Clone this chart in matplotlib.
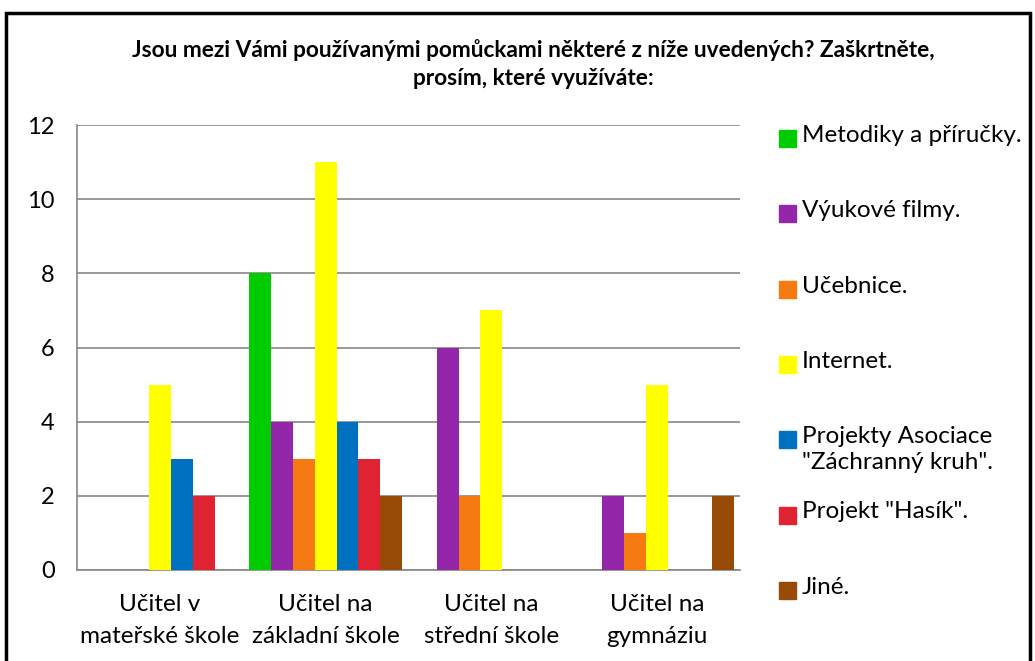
import matplotlib
matplotlib.use("Agg")
import matplotlib.pyplot as plt
from matplotlib.patches import Rectangle
import numpy as np

plt.rcParams['font.family'] = ['Lato', 'DejaVu Sans']

title = "Jsou mezi Vámi používanými pomůckami některé z níže uvedených? Zaškrtněte,\nprosím, které využíváte:"
categories = ["Učitel v\nmateřské škole", "Učitel na\nzákladní škole",
              "Učitel na\nstřední škole", "Učitel na\ngymnáziu"]
series = ["Metodiky a příručky.", "Výukové filmy.", "Učebnice.", "Internet.",
          "Projekty Asociace\n\"Záchranný kruh\".", "Projekt \"Hasík\".", "Jiné."]
metodiky = [0, 8, 0, 0]
filmy = [0, 4, 6, 2]
ucebnice = [0, 3, 2, 1]
internet = [5, 11, 7, 5]
zachranny = [3, 4, 0, 0]
hasik = [2, 3, 0, 0]
jine = [0, 2, 0, 2]
values = [metodiky, filmy, ucebnice, internet, zachranny, hasik, jine]
colors = ["#00CC00", "#9427A9", "#F57A12", "#FFFF00", "#0070C0", "#DF2332", "#974B07"]

W, H = 1035, 661
fig = plt.figure(figsize=(W / 100, H / 100), dpi=100)
ax = fig.add_axes([77 / W, 1 - 570 / H, (740 - 77) / W, (570 - 125) / H])

x = np.arange(len(categories))
bw = 0.132
for i, (vals, c) in enumerate(zip(values, colors)):
    ax.bar(x + (i - 3) * bw, vals, width=bw, color=c, zorder=3, linewidth=0)

ax.set_xlim(-0.5, len(categories) - 0.5)
ax.set_ylim(0, 12)
ax.set_yticks(range(0, 13, 2))
ax.yaxis.grid(True, color="#868686", linewidth=1.2, zorder=0)
ax.tick_params(axis='y', length=0, labelsize=17, pad=16)
ax.tick_params(axis='x', length=0, labelsize=17.5, pad=17)
ax.set_xticks(x)
ax.set_xticklabels(categories, linespacing=1.65)
for s in ["top", "right"]:
    ax.spines[s].set_visible(False)
for s in ["left", "bottom"]:
    ax.spines[s].set_color("#868686")
    ax.spines[s].set_linewidth(1.2)

fig.text(533 / W, 1 - 64 / H, title, ha='center', va='center', fontsize=16.3,
         fontweight='bold', linespacing=1.45)

# legend
for i, (name, c) in enumerate(zip(series, colors)):
    y = 1 - (139 + i * 75.3) / H
    fig.patches.append(Rectangle((779 / W, y - 8 / H), 17 / W, 17 / H,
                                 transform=fig.transFigure, color=c))
    fig.text(802 / W, y + 14 / H, name, ha='left', va='top', fontsize=17.5,
             linespacing=1.3)

# outer border
fig.patches.append(Rectangle((6 / W, -0.1), (1030 - 6) / W, 1.1 - 13 / H,
                             transform=fig.transFigure, fill=False,
                             edgecolor='black', linewidth=2.5))

fig.savefig("out.png", dpi=100)
